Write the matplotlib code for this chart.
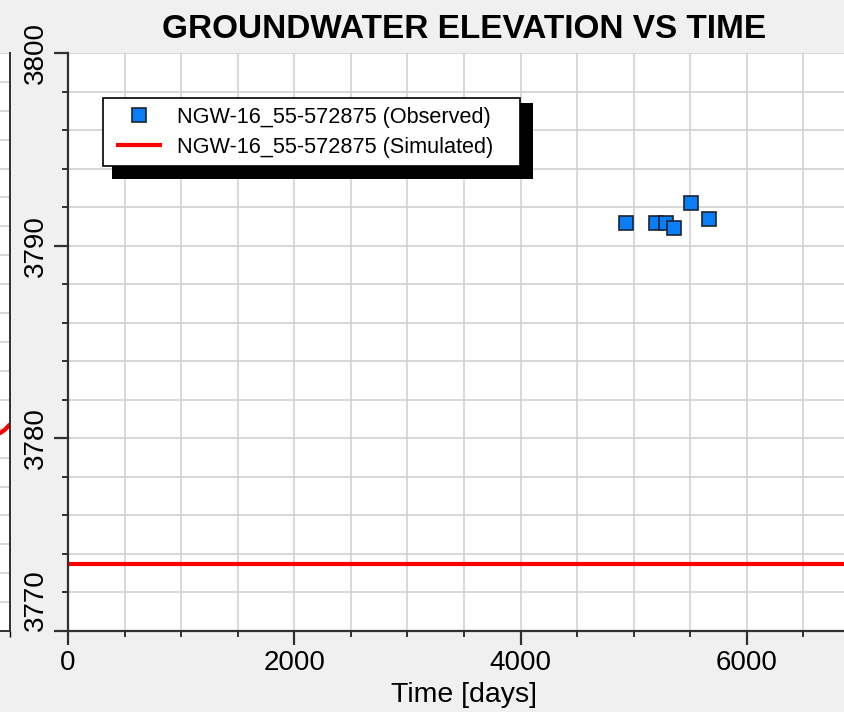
import matplotlib
matplotlib.use("Agg")
import matplotlib.pyplot as plt
from matplotlib.patches import Rectangle
from matplotlib.transforms import IdentityTransform
from matplotlib.ticker import MultipleLocator
from matplotlib.lines import Line2D
from matplotlib.legend_handler import HandlerLine2D

plt.rcParams['font.family'] = ['Liberation Sans', 'DejaVu Sans']

# observed heads (ft) vs time (days)
obs_time = [4930, 5195, 5283, 5354, 5504, 5664]
obs_head = [3791.2, 3791.2, 3791.2, 3790.9, 3792.2, 3791.4]

# simulated head, flat over the run
sim_time = [30, 7000]
sim_head = [3773.5, 3773.5]

# sliver of the neighbouring panel at the left edge
side_x = [0.0, 0.45, 0.85]
side_y = [6.85, 6.95, 7.1]

obs_label = 'NGW-16_55-572875 (Observed)'
sim_label = 'NGW-16_55-572875 (Simulated)'
y_ticks = [3770, 3780, 3790, 3800]

W, H = 845, 712
fig = plt.figure(figsize=(W / 100, H / 100), dpi=100, facecolor='#f0f0f0')

# main axes (right edge runs off the picture)
left, top, bottom, right = 68, 53, 631, 860
ax = fig.add_axes([left / W, 1 - bottom / H, (right - left) / W, (bottom - top) / H])
ax.set_facecolor('white')

ax.plot(sim_time, sim_head, color='#ff0000', lw=3, label=sim_label, zorder=3)
ax.plot(obs_time, obs_head, ls='none', marker='s', ms=9.7, mfc='#0a7ef7',
        mec='#1c2430', mew=1.2, label=obs_label, zorder=4)

ax.set_xlim(0, 7000)
ax.set_ylim(3770, 3800)
ax.xaxis.set_major_locator(MultipleLocator(2000))
ax.xaxis.set_minor_locator(MultipleLocator(500))
ax.set_yticks(y_ticks)
ax.yaxis.set_minor_locator(MultipleLocator(2))
ax.grid(which='both', color='#d2d2d2', lw=1.2, zorder=0)
ax.set_axisbelow(True)

for s in ['top', 'right']:
    ax.spines[s].set_visible(False)
for s in ['left', 'bottom']:
    ax.spines[s].set_color('#303030')
    ax.spines[s].set_linewidth(1.6)

ax.tick_params(which='major', length=10, width=1.6, color='#303030',
               labelsize=20, pad=4)
ax.tick_params(which='minor', length=4, width=1.4, color='#303030')
ax.tick_params(axis='y', labelrotation=90)
for i, t in enumerate(ax.yaxis.get_major_ticks()):
    t.label1.set_ha('right')
    t.label1.set_va('bottom' if i == 0 else 'center')

ax.set_xlabel('Time [days]', fontsize=20.5, labelpad=4)
fig.text(464 / W, 1 - 30 / H, 'GROUNDWATER ELEVATION VS TIME', ha='center',
         va='center', fontsize=24, fontweight='bold')

handles, labels = ax.get_legend_handles_labels()
leg = ax.legend(handles[::-1], labels[::-1],
                loc='upper left', bbox_to_anchor=(103 / W, 1 - 164 / H, 417 / W, 66 / H),
                bbox_transform=fig.transFigure, mode='expand', borderaxespad=0,
                handler_map={Line2D: HandlerLine2D(xpad=0.29)},
                fontsize=15.6, handlelength=2.23, handletextpad=0.78,
                labelspacing=0.42, borderpad=0.4, fancybox=False,
                edgecolor='black', facecolor='white', framealpha=1)
leg.get_frame().set_linewidth(1.2)

# neighbouring panel sliver
sx = fig.add_axes([0, 1 - bottom / H, 10 / W, (bottom - top) / H])
sx.set_facecolor('white')
sx.plot(side_x, side_y, color='#ff0000', lw=3)
sx.set_xlim(0, 1)
sx.set_ylim(0, 20)
sx.set_yticks(range(0, 21))
sx.set_xticks([1])
sx.grid(axis='y', color='#d2d2d2', lw=1.2)
sx.tick_params(axis='y', length=0, labelleft=False)
sx.tick_params(axis='x', length=4, width=1, labelbottom=False)
for s in ['top', 'left']:
    sx.spines[s].set_visible(False)
for s in ['right', 'bottom']:
    sx.spines[s].set_color('#303030')
    sx.spines[s].set_linewidth(1.4)

# solid black drop shadow behind the legend
fig.canvas.draw()
bb = leg.get_window_extent()
shadow = Rectangle((bb.x0 + 9, bb.y0 - 13), bb.width + 4, bb.height + 8,
                   transform=IdentityTransform(), facecolor='black',
                   edgecolor='none', zorder=leg.get_zorder() - 0.1, clip_on=False)
ax.add_patch(shadow)

fig.savefig('out.png', dpi=100, facecolor=fig.get_facecolor())
